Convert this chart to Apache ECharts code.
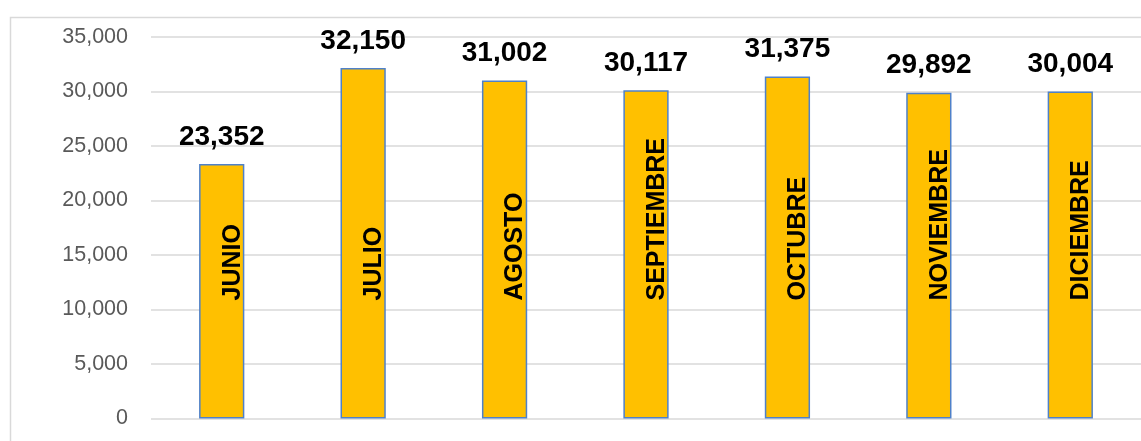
<!DOCTYPE html>
<html>
<head>
<meta charset="utf-8">
<script src="https://cdn.jsdelivr.net/npm/echarts@6/dist/echarts.min.js"></script>
<style>
html,body{margin:0;padding:0;background:#fff;}
#chart{width:1141px;height:441px;}
</style>
</head>
<body>
<div id="chart"></div>
<script>
const categories = ['JUNIO','JULIO','AGOSTO','SEPTIEMBRE','OCTUBRE','NOVIEMBRE','DICIEMBRE'];
const values = [23352, 32150, 31002, 30117, 31375, 29892, 30004];
const yTicks = [0, 5000, 10000, 15000, 20000, 25000, 30000, 35000];

const fmt = v => v.toLocaleString('en-US');
const chart = echarts.init(document.getElementById('chart'), null, {renderer:'canvas'});
chart.setOption({
  animation: false,
  backgroundColor: '#fff',
  graphic: [{
    type: 'rect', left: 8, top: 15, silent: true, z: -10,
    shape: {width: 1200, height: 500},
    style: {fill: 'none', stroke: '#d9d9d9', lineWidth: 1.5}
  }],
  grid: {left: 151, top: 37, width: 994, height: 381.5, containLabel: false},
  xAxis: {
    type: 'category', data: categories,
    axisLine: {show: false}, axisTick: {show: false}, axisLabel: {show: false}
  },
  yAxis: {
    type: 'value', min: yTicks[0], max: yTicks[yTicks.length-1], interval: 5000,
    axisLine: {show: false}, axisTick: {show: false},
    splitLine: {lineStyle: {color: '#d9d9d9', width: 1.5}},
    axisLabel: {color: '#595959', fontFamily: 'Liberation Sans', fontSize: 21.5, margin: 23, formatter: v => fmt(v)}
  },
  series: [{
    type: 'bar', data: values, barWidth: '32%',
    itemStyle: {color: '#FFC000', borderColor: '#4F81C9', borderWidth: 1.5},
    label: {
      show: true, position: 'top', distance: 13,
      fontFamily: 'Liberation Sans', fontWeight: 'bold', fontSize: 28, color: '#000',
      formatter: p => fmt(p.value)
    },
    labelLayout: {hideOverlap: false}
  }, {
    type: 'bar', data: values, barWidth: '32%', barGap: '-100%', silent: true,
    itemStyle: {color: 'transparent'},
    label: {
      show: true, position: 'insideBottom', distance: 118, rotate: 90,
      align: 'left', verticalAlign: 'middle', offset: [0, 11],
      fontFamily: 'Liberation Sans', fontWeight: 'bold', fontSize: 25, color: '#000',
      formatter: p => p.name
    }
  }]
});
</script>
</body>
</html>
